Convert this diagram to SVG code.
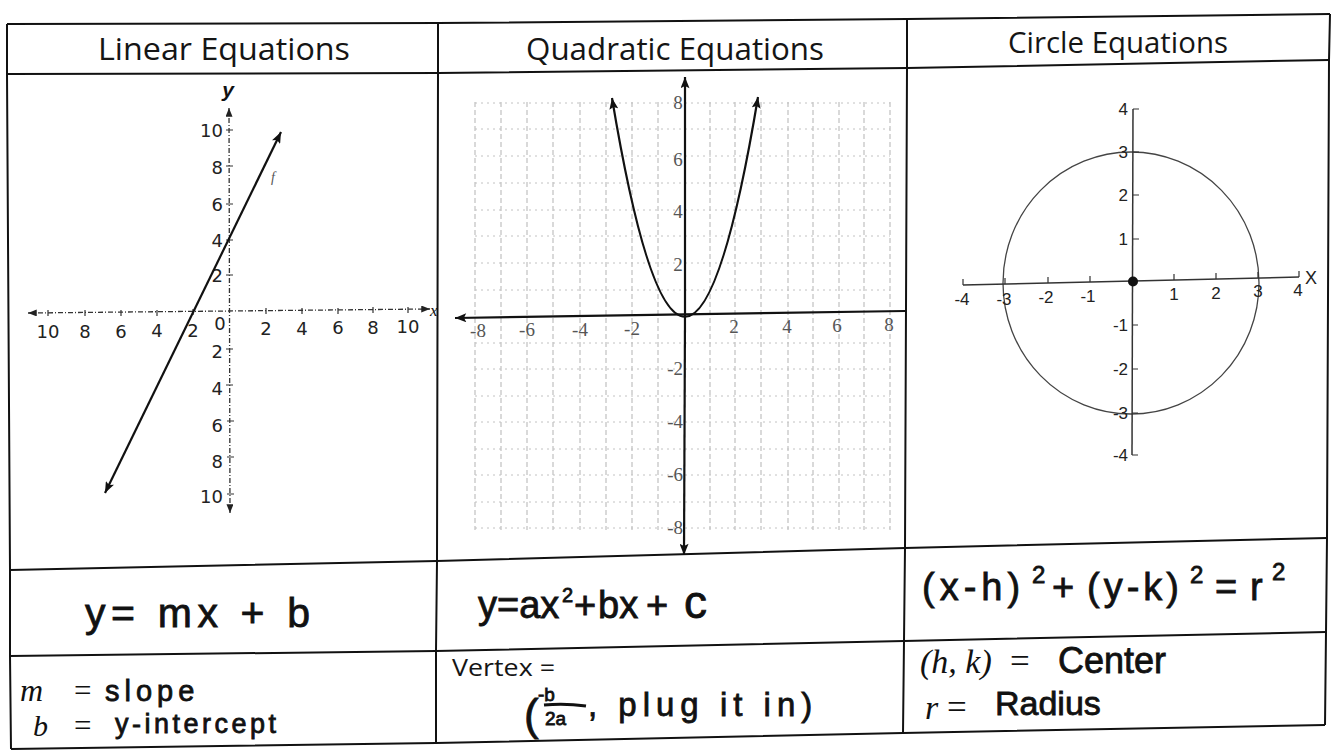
<svg xmlns="http://www.w3.org/2000/svg" width="1334" height="753" viewBox="0 0 1334 753">
<defs>
<style>
.tbl{fill:none;stroke:#111;stroke-width:2;stroke-linejoin:round}
.hdr{font-family:"Open Sans","Liberation Sans",sans-serif;font-size:31px;fill:#151515;text-anchor:middle}
.hand{font-family:"Liberation Sans",Arial,sans-serif;fill:#111;stroke:#111;stroke-width:0.8}
.math{font-family:"Liberation Serif",serif;font-style:italic;fill:#111}
.mrm{font-family:"Liberation Serif",serif;fill:#111}
.prn{font-family:"Open Sans","Liberation Sans",sans-serif;fill:#151515}
.ax1{fill:none;stroke:#333;stroke-width:1.3;stroke-dasharray:5 2 1 2}
.tick{fill:none;stroke:#333;stroke-width:1.2}
.l1{font-family:"DejaVu Sans",sans-serif;font-size:18px;fill:#222}
.gridv{fill:none;stroke:#b3b3b3;stroke-width:1;stroke-dasharray:5 3}
.gridh{fill:none;stroke:#c2c2c2;stroke-width:1;stroke-dasharray:2 4}
.l2{font-family:"Liberation Serif",serif;font-size:19px;fill:#555}
.l3{font-family:"Liberation Sans",sans-serif;font-size:17px;fill:#222}
.ax3{fill:none;stroke:#333;stroke-width:1.5}
.heavy{fill:none;stroke:#111;stroke-width:2.2}
</style>
<marker id="ahS" viewBox="0 0 10 8" refX="10" refY="4" markerWidth="9" markerHeight="7" markerUnits="userSpaceOnUse" orient="auto-start-reverse"><path d="M0,0 L10,4 L0,8 z" fill="#222"/></marker>
<marker id="ahL" viewBox="0 0 10 8" refX="10" refY="4" markerWidth="15" markerHeight="9" markerUnits="userSpaceOnUse" orient="auto-start-reverse"><path d="M0,0 L10,4 L0,8 L2,4 z" fill="#111"/></marker>
</defs>
<rect width="1334" height="753" fill="#fff"/>

<g id="table-lines">
<path class="tbl" d="M7,24 L438,23 L907,19 L1330,14"/>
<path class="tbl" d="M7,74 L438,73 L907,68 L1329,60"/>
<path class="tbl" d="M10,570 L437,561 L905,548 L1327,538"/>
<path class="tbl" d="M10,656 L436,651 L904,641 L1326,632"/>
<path class="tbl" d="M11,749 L436,743 L903,733 L1325,725"/>
<path class="tbl" d="M7,24 L7,74 L10,570 L10,656 L11,749"/>
<path class="tbl" d="M438,23 L438,73 L437,561 L436,651 L436,743"/>
<path class="tbl" d="M907,19 L907,68 L905,548 L904,641 L903,733"/>
<path class="tbl" d="M1330,14 L1329,60 L1327,538 L1326,632 L1325,725"/>
</g>

<g id="header-linear"><text class="hdr" x="224" y="60" textLength="252" lengthAdjust="spacingAndGlyphs">Linear Equations</text></g>
<g id="header-quadratic"><text class="hdr" x="675" y="60" textLength="298" lengthAdjust="spacingAndGlyphs">Quadratic Equations</text></g>
<g id="header-circle"><text class="hdr" x="1118" y="53" style="font-size:29px" textLength="220" lengthAdjust="spacingAndGlyphs">Circle Equations</text></g>

<g id="graph-linear">
<path class="ax1" d="M28,313 L430,309" marker-start="url(#ahS)" marker-end="url(#ahS)"/>
<path class="ax1" d="M229,108 L230,513" marker-start="url(#ahS)" marker-end="url(#ahS)"/>
<path class="tick" d="M48,310 v6 M85,310 v6 M121,310 v6 M157,310 v6 M193,309 v6 M266,308 v6 M302,308 v6 M338,308 v6 M373,307 v6 M408,307 v6 M226,130 h7 M226,166 h7 M226,204 h7 M226,240 h7 M226,275 h7 M226,349 h7 M226,385 h7 M227,421 h7 M227,457 h7 M227,494 h7"/>
<g class="l1" text-anchor="middle">
<text x="48" y="338">10</text><text x="85" y="338">8</text><text x="121" y="338">6</text><text x="157" y="337">4</text><text x="193" y="337">2</text>
<text x="220" y="330">0</text>
<text x="266" y="335">2</text><text x="302" y="335">4</text><text x="338" y="334">6</text><text x="373" y="334">8</text><text x="408" y="333">10</text>
</g>
<g class="l1" text-anchor="end">
<text x="223" y="137">10</text><text x="223" y="174">8</text><text x="223" y="211">6</text><text x="223" y="247">4</text><text x="223" y="282">2</text>
<text x="223" y="358">2</text><text x="223" y="395">4</text><text x="223" y="432">6</text><text x="223" y="468">8</text><text x="223" y="503">10</text>
</g>
<text x="228" y="97" text-anchor="middle" style="font-size:21px;font-weight:bold;font-style:italic;font-family:'Liberation Sans',sans-serif;fill:#111">y</text>
<text class="math" x="430" y="316" style="font-size:17px">x</text>
<path class="heavy" d="M105,493 L281,132" marker-start="url(#ahL)" marker-end="url(#ahL)"/>
<text class="math" x="271" y="182" style="font-size:14px;fill:#555">f</text>
</g>

<g id="graph-quadratic">
<path class="gridv" d="M475,102 V530 M501,102 V530 M527,102 V530 M553,102 V530 M580,102 V530 M606,102 V530 M632,102 V530 M658,102 V530 M710,102 V530 M735,102 V530 M761,102 V530 M788,102 V530 M813,102 V530 M839,102 V530 M864,102 V530 M890,102 V530"/>
<path class="gridh" d="M475,103 H890 M475,129 H890 M475,156 H890 M475,183 H890 M475,210 H890 M475,236 H890 M475,263 H890 M475,290 H890 M475,343 H890 M475,369 H890 M475,396 H890 M475,422 H890 M475,449 H890 M475,475 H890 M475,502 H890 M475,528 H890"/>
<path class="heavy" d="M905,311 L455,318" marker-end="url(#ahL)"/>
<path class="heavy" d="M685,317 L685,77" marker-end="url(#ahL)"/>
<path class="heavy" d="M685,317 L684,555" marker-end="url(#ahL)"/>
<path class="heavy" d="M612,98 Q685,536 758,97" marker-start="url(#ahL)" marker-end="url(#ahL)"/>
<g class="l2" text-anchor="middle">
<text x="478" y="337">-8</text><text x="527" y="336">-6</text><text x="580" y="336">-4</text><text x="632" y="335">-2</text>
<text x="734" y="333">2</text><text x="787" y="333">4</text><text x="837" y="332">6</text><text x="889" y="331">8</text>
<text x="678" y="109">8</text><text x="678" y="166">6</text><text x="678" y="218">4</text><text x="678" y="271">2</text>
</g>
<g class="l2" text-anchor="end">
<text x="683" y="375">-2</text><text x="683" y="428">-4</text><text x="683" y="481">-6</text><text x="683" y="534">-8</text>
</g>
</g>

<g id="graph-circle">
<ellipse cx="1131" cy="283" rx="128" ry="131" fill="none" stroke="#444" stroke-width="1.3"/>
<path class="ax3" d="M963,285 L1299,277"/>
<path class="ax3" d="M1133,109 L1132,455"/>
<path class="tick" d="M963,285 v-6 M1005,284 v-6 M1048,283 v-6 M1090,282 v-6 M1174,280 v-6 M1216,279 v-6 M1258,278 v-6 M1299,277 v-6 M1133,109 h6 M1133,152 h6 M1133,195 h6 M1133,239 h6 M1132,325 h6 M1132,369 h6 M1132,413 h6 M1132,455 h6"/>
<circle cx="1133" cy="281.5" r="5" fill="#111"/>
<g class="l3" text-anchor="middle">
<text x="962" y="305">-4</text><text x="1004" y="305">-3</text><text x="1046" y="303">-2</text><text x="1088" y="302">-1</text>
<text x="1174" y="300">1</text><text x="1216" y="299">2</text><text x="1258" y="297">3</text><text x="1298" y="296">4</text>
</g>
<text class="l3" x="1305" y="284" style="font-size:18px">X</text>
<g class="l3" text-anchor="end">
<text x="1128" y="115">4</text><text x="1128" y="158">3</text><text x="1128" y="201">2</text><text x="1128" y="245">1</text>
<text x="1128" y="331">-1</text><text x="1128" y="375">-2</text><text x="1128" y="419">-3</text><text x="1128" y="461">-4</text>
</g>
</g>

<g id="eq-linear">
<text class="hand" x="85" y="627" style="font-size:41px" textLength="225" lengthAdjust="spacing">y= mx + b</text>
</g>
<g id="eq-quadratic">
<text class="hand" y="618" style="font-size:38px"><tspan x="478">y=ax</tspan><tspan x="562" y="602" style="font-size:20px">2</tspan><tspan x="574" y="618">+</tspan><tspan x="598">bx</tspan><tspan x="646">+</tspan><tspan x="684" style="font-size:46px">c</tspan></text>
</g>
<g id="eq-circle">
<text class="hand" y="600" style="font-size:38px"><tspan x="922" style="letter-spacing:5px">(x-h)</tspan><tspan x="1032" y="583" style="font-size:24px">2</tspan><tspan x="1052" y="600">+</tspan><tspan x="1087" style="letter-spacing:4px">(y-k)</tspan><tspan x="1190" y="583" style="font-size:24px">2</tspan><tspan x="1215" y="600">=</tspan><tspan x="1250">r</tspan><tspan x="1272" y="580" style="font-size:24px">2</tspan></text>
</g>

<g id="notes-linear">
<text y="701"><tspan class="math" x="20" style="font-size:32px">m</tspan><tspan class="mrm" x="74" style="font-size:31px">=</tspan><tspan class="hand" x="105" style="font-size:29px;letter-spacing:5px">slope</tspan></text>
<text y="736"><tspan class="math" x="33" style="font-size:30px">b</tspan><tspan class="mrm" x="74" style="font-size:31px">=</tspan><tspan class="hand" x="115" y="733" style="font-size:27px;letter-spacing:3.5px">y-intercept</tspan></text>
</g>
<g id="notes-quadratic">
<text class="prn" x="452" y="676" style="font-size:24px" textLength="103" lengthAdjust="spacingAndGlyphs">Vertex =</text>
<path d="M544,705 Q565,703 586,706" fill="none" stroke="#111" stroke-width="3"/>
<text class="hand"><tspan x="524" y="730" style="font-size:44px">(</tspan><tspan x="538" y="701" style="font-size:19px">-b</tspan><tspan x="545" y="725" style="font-size:19px">2a</tspan><tspan x="588" y="716" style="font-size:33px;letter-spacing:6px">, plug it in)</tspan></text>
</g>
<g id="notes-circle">
<text y="673"><tspan class="math" x="920" style="font-size:34px">(h, k)</tspan><tspan class="mrm" x="1010" style="font-size:35px">=</tspan><tspan class="hand" x="1058" style="font-size:36px">Center</tspan></text>
<text y="719"><tspan class="math" x="925" style="font-size:34px">r</tspan><tspan class="mrm" x="947" style="font-size:35px">=</tspan><tspan class="hand" x="995" y="715" style="font-size:34px">Radius</tspan></text>
</g>
</svg>
